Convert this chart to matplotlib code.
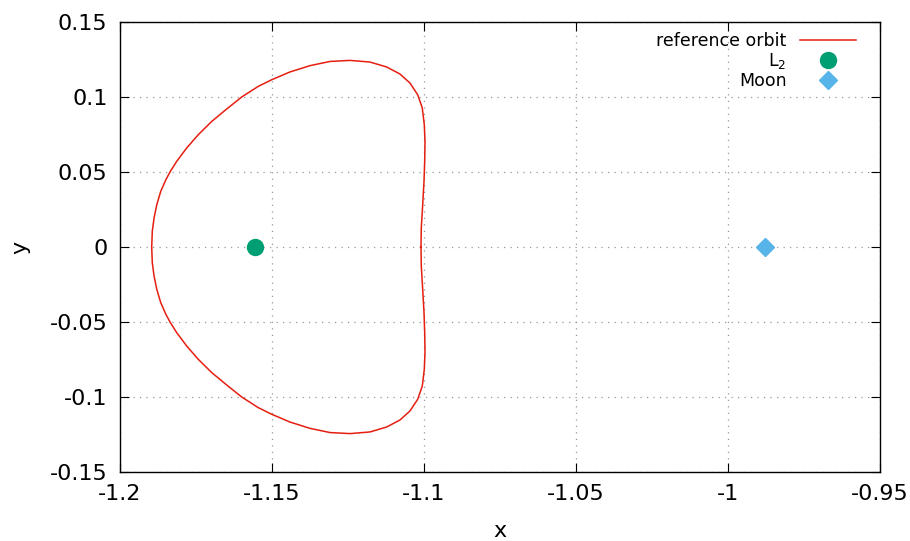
import matplotlib
matplotlib.use("Agg")
import matplotlib.pyplot as plt

# planar orbit around L2, sampled points (x, y), closed loop
orbit_x = [-1.10099, -1.10089, -1.10043, -1.10000, -1.09977, -1.09967, -1.09990,
           -1.10056, -1.10207, -1.10461, -1.10789, -1.11227, -1.11776, -1.12434,
           -1.13092, -1.13750, -1.14408, -1.15010, -1.15451, -1.15997, -1.16490,
           -1.16984, -1.17424, -1.17806, -1.18135, -1.18355, -1.18490, -1.18660,
           -1.18790, -1.18880, -1.18938, -1.18957,
           -1.18938, -1.18880, -1.18790, -1.18660, -1.18490, -1.18355, -1.18135,
           -1.17806, -1.17424, -1.16984, -1.16490, -1.15997, -1.15451, -1.15010,
           -1.14408, -1.13750, -1.13092, -1.12434, -1.11776, -1.11227, -1.10789,
           -1.10461, -1.10207, -1.10056, -1.09990, -1.09967, -1.09977, -1.10000,
           -1.10043, -1.10089, -1.10099]
orbit_y = [0.0, 0.0127, 0.0282, 0.0437, 0.0571, 0.0704, 0.0815,
           0.0927, 0.1015, 0.1093, 0.1153, 0.1200, 0.1233, 0.1244,
           0.1237, 0.1209, 0.1167, 0.1115, 0.1071, 0.1000, 0.0920,
           0.0837, 0.0749, 0.0660, 0.0571, 0.0500, 0.0449, 0.0371,
           0.0282, 0.0193, 0.0104, 0.0,
           -0.0104, -0.0193, -0.0282, -0.0371, -0.0449, -0.0500, -0.0571,
           -0.0660, -0.0749, -0.0837, -0.0920, -0.1000, -0.1071, -0.1115,
           -0.1167, -0.1209, -0.1237, -0.1244, -0.1233, -0.1200, -0.1153,
           -0.1093, -0.1015, -0.0927, -0.0815, -0.0704, -0.0571, -0.0437,
           -0.0282, -0.0127, 0.0]

l2_x, l2_y = -1.15568, 0.0
moon_x, moon_y = -0.98785, 0.0

x_ticks = [-1.2, -1.15, -1.1, -1.05, -1.0, -0.95]
x_labels = ["-1.2", "-1.15", "-1.1", "-1.05", "-1", "-0.95"]
y_ticks = [-0.15, -0.1, -0.05, 0.0, 0.05, 0.1, 0.15]
y_labels = ["-0.15", "-0.1", "-0.05", "0", "0.05", "0.1", "0.15"]

fig = plt.figure(figsize=(9.1, 5.41), dpi=100)
ax = fig.add_axes([120 / 910, 1 - 472 / 541, 760 / 910, 450 / 541])

ax.plot(orbit_x, orbit_y, color="#e51e10", lw=1.1, label="reference orbit",
        solid_joinstyle="round", zorder=3)
ax.plot([l2_x], [l2_y], "o", color="#009e73", ms=11.5, ls="none", label="L$_2$", zorder=4)
ax.plot([moon_x], [moon_y], "D", color="#56b4e9", ms=9, ls="none", label="Moon", zorder=4)

ax.set_xlim(-1.2, -0.95)
ax.set_ylim(-0.15, 0.15)
ax.set_xticks(x_ticks)
ax.set_xticklabels(x_labels)
ax.set_yticks(y_ticks)
ax.set_yticklabels(y_labels)
ax.tick_params(direction="in", length=6.5, width=0.8, labelsize=16,
               top=True, right=True, pad=9)
ax.grid(True, color="#999999", lw=0.9, linestyle=(0, (1, 4.2)))
ax.set_axisbelow(True)
for s in ax.spines.values():
    s.set_linewidth(1.0)

ax.set_xlabel("x", fontsize=16, labelpad=12)
ax.set_ylabel("y", fontsize=16, labelpad=14)

leg = ax.legend(loc="upper right", bbox_to_anchor=(0.9684, 0.978), frameon=False,
                markerfirst=False, fontsize=12.5, handlelength=3.2,
                handletextpad=0.8, borderpad=0, borderaxespad=0,
                labelspacing=0.05, numpoints=1)

fig.savefig("out.png", dpi=100)
